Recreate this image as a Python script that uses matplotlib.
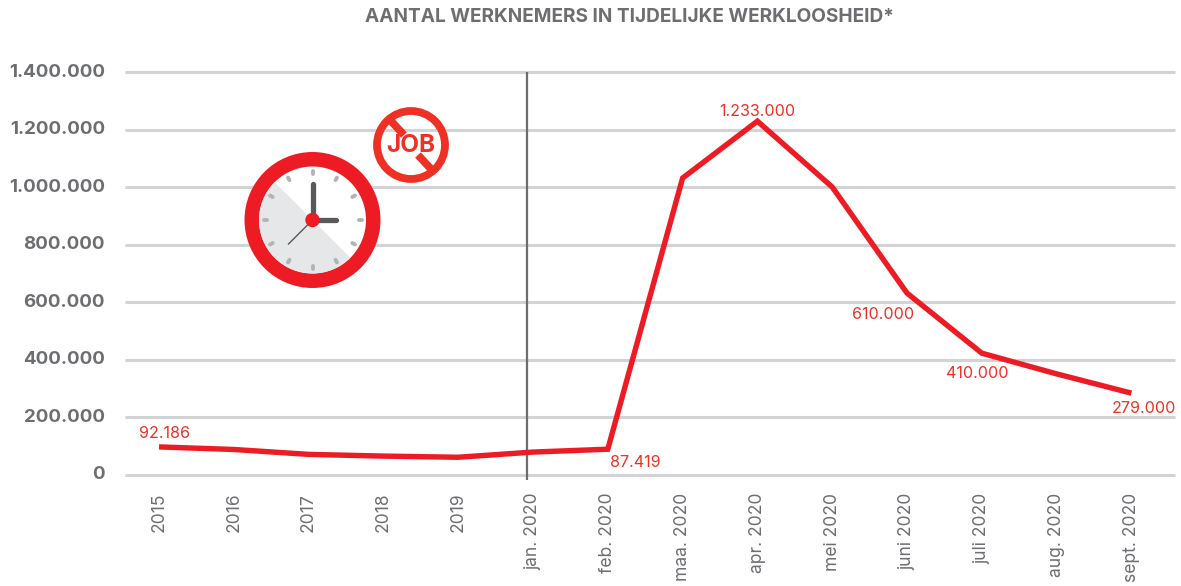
import math
import matplotlib
matplotlib.use("Agg")
import matplotlib.pyplot as plt
from matplotlib.patches import Circle, Wedge
from matplotlib.transforms import ScaledTranslation

W, H = 1181, 586
categories = ["2015", "2016", "2017", "2018", "2019", "jan. 2020", "feb. 2020", "maa. 2020",
              "apr. 2020", "mei 2020", "juni 2020", "juli 2020", "aug. 2020", "sept. 2020"]
values = [96000, 87000, 70000, 64000, 60000, 78000, 88000, 1031000,
          1229000, 1000000, 631000, 422000, 350000, 283000]
y_ticks = [0, 200000, 400000, 600000, 800000, 1000000, 1200000, 1400000]
y_labels = ["0", "200.000", "400.000", "600.000", "800.000", "1.000.000", "1.200.000", "1.400.000"]
annot_idx = [0, 6, 8, 10, 11, 13]
annot_txt = ["92.186", "87.419", "1.233.000", "610.000", "410.000", "279.000"]
annot_off = [(5, 13), (28, -13), (0, 10), (-24, -21), (-5, -20), (13, -15)]

RED = "#ed1c24"
GREY = "#6d6e71"
FONT = "Inter"

fig = plt.figure(figsize=(W / 100, H / 100), dpi=100, facecolor="white")
ax_l, ax_r, y0_px, y14_px = 125, 1175, 474.5, 72
ax = fig.add_axes([ax_l / W, 1 - y0_px / H, (ax_r - ax_l) / W, (y0_px - y14_px) / H])
ax.patch.set_alpha(0)
ax.set_ylim(0, 1400000)
step = 74.8
ax.set_xlim((ax_l - 159) / step, (ax_r - 159) / step)
for s in ax.spines.values():
    s.set_visible(False)

ax.set_yticks(y_ticks, y_labels, fontsize=13.5, fontweight="bold", color=GREY, family=FONT)
ax.tick_params(axis="y", length=0, pad=14.5)
shift_up = ScaledTranslation(0, 1.4 / 72, fig.dpi_scale_trans)
for lab in ax.get_yticklabels():
    lab.set_transform(lab.get_transform() + shift_up)
ax.set_xticks(range(len(categories)), categories, rotation=90, fontsize=12.6, color=GREY, family=FONT)
ax.tick_params(axis="x", length=0, pad=13.2)
for lab in ax.get_xticklabels():
    lab.set_ha("center")
ax.grid(axis="y", color="#d1d3d4", lw=2.2, zorder=0, solid_capstyle="butt")
ax.set_axisbelow(True)
for g in ax.get_ygridlines():
    g.set_clip_on(False)

ax.plot([4.92, 4.92], [-20000, 1400000], color=GREY, lw=1.6, zorder=2, clip_on=False, solid_capstyle="butt")
ax.plot(range(len(values)), values, color=RED, lw=3.9, zorder=3, solid_joinstyle="miter", solid_capstyle="butt")

for i, t, (dx, dy) in zip(annot_idx, annot_txt, annot_off):
    ax.annotate(t, (i, values[i]), xytext=(dx * 0.72, dy * 0.72), textcoords="offset points",
                ha="center", va="center", fontsize=11.6, color="#ee3124", family=FONT, zorder=5)

fig.text(629 / W, 1 - 16.5 / H, "AANTAL WERKNEMERS IN TIJDELIJKE WERKLOOSHEID*", ha="center", va="center",
         fontsize=13.7, fontweight="bold", color=GREY, family=FONT)

# decorative icons in a pixel-space overlay
ov = fig.add_axes([0, 0, 1, 1])
ov.set_xlim(0, W)
ov.set_ylim(H, 0)
ov.axis("off")
ov.patch.set_alpha(0)
cx, cy = 312.5, 220
ov.add_patch(Circle((cx, cy), 68, color=RED, lw=0))
ov.add_patch(Circle((cx, cy), 53.5, color="white", lw=0))
ov.add_patch(Wedge((cx, cy), 53.5, 45, 225, color="#e6e7e8", lw=0))
for k in range(12):
    a = math.radians(k * 30)
    ca, sa = math.sin(a), -math.cos(a)
    ov.plot([cx + 46 * ca, cx + 49 * ca], [cy + 46 * sa, cy + 49 * sa], color="#b1b3b6", lw=2.8,
            solid_capstyle="round")
ov.plot([cx, cx], [cy, cy - 36], color="#58595b", lw=3.8, solid_capstyle="round")
ov.plot([cx, cx + 23], [cy, cy], color="#58595b", lw=3.8, solid_capstyle="round")
ov.plot([cx, cx - 24], [cy, cy + 24], color="#58595b", lw=1.0)
ov.add_patch(Circle((cx, cy), 7.2, color=RED, lw=0, zorder=5))

jx, jy = 411, 145
JR = "#ee3124"
ov.add_patch(Circle((jx, jy), 34, facecolor="none", edgecolor=JR, lw=5.6))
ov.plot([jx - 20, jx - 7], [jy - 24, jy - 10], color=JR, lw=5.6, solid_capstyle="butt")
ov.plot([jx + 7, jx + 20], [jy + 10, jy + 24], color=JR, lw=5.6, solid_capstyle="butt")
ov.text(jx, jy, "JOB", ha="center", va="center", fontsize=17.5, fontweight="bold", color=JR, family=FONT)

fig.savefig("out.png", dpi=100, facecolor="white")
